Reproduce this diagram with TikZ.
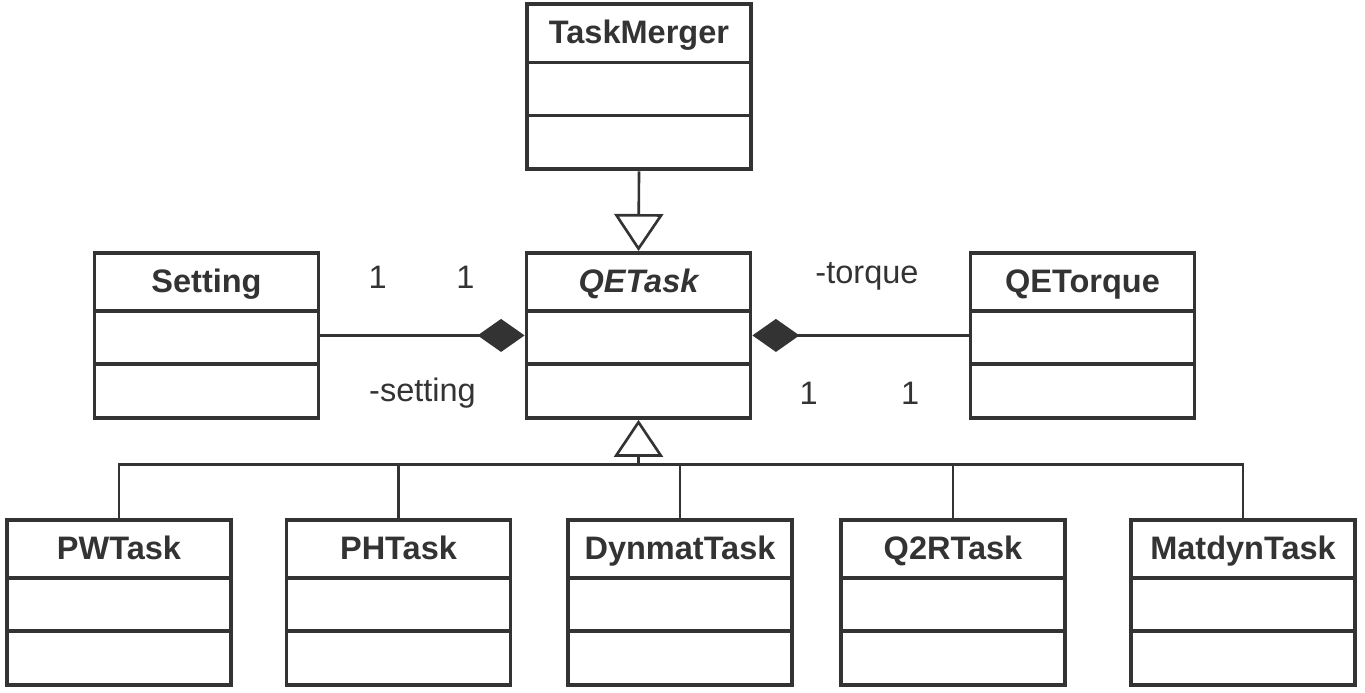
\documentclass[tikz,border=0pt]{standalone}
\usepackage{fontspec}
\setmainfont{Liberation Sans}
\usepackage{tikz}
\usepackage{xcolor}
\usetikzlibrary{arrows.meta}
\definecolor{umlgray}{HTML}{333333}
\tikzset{
  umlclass/.style={rectangle,
      draw=umlgray,
      line width=2.2pt,
      minimum width=4.48cm,
      minimum height=3.3cm,
      inner sep=0pt,
      anchor=north,
      label={[anchor=base, yshift=-0.82cm]north:\bfseries #1}},
  assoc/.style={draw=umlgray, line width=1.5pt},
  composition/.style={assoc, -{Diamond[length=0.94cm, width=0.66cm, fill=umlgray]}},
  generalization/.style={assoc, -{Triangle[open, length=0.74cm, width=0.98cm, fill=white]}},
}

\begin{document}
\begin{tikzpicture}[font=\fontsize{18.5}{22}\selectfont, color=umlgray]
\useasboundingbox[fill=white] (0,0) rectangle (27.3,-13.86);

\node[umlclass=TaskMerger] (merger) at (12.78,-0.05) {};
\node[umlclass={\itshape QETask}] (task) at (12.77,-5.02) {};
\node[umlclass=Setting] (setting) at (4.13,-5.02) {};
\node[umlclass=QETorque] (torque) at (21.65,-5.02) {};
\node[umlclass=PWTask] (pw) at (2.38,-10.36) {};
\node[umlclass=PHTask] (ph) at (7.97,-10.36) {};
\node[umlclass=DynmatTask] (dynmat) at (13.6,-10.36) {};
\node[umlclass=Q2RTask] (q2r) at (19.06,-10.36) {};
\node[umlclass=MatdynTask] (matdyn) at (24.86,-10.36) {};

\foreach \n in {merger,task,setting,torque,pw,ph,dynmat,q2r,matdyn}
  \draw[line width=2.2pt] ([yshift=-1.2cm]\n.north west) -- ([yshift=-1.2cm]\n.north east)
    ([yshift=-2.26cm]\n.north west) -- ([yshift=-2.26cm]\n.north east);

\draw[generalization] (merger.south) -- (task.north);

\draw[composition] (setting.east) -- (task.west)
  node[pos=0.28, yshift=1.17cm] {1}
  node[pos=0.71, yshift=1.17cm] {1}
  node[pos=0.5, yshift=-1.15cm] {-setting};
\draw[composition] (torque.west) -- (task.east)
  node[pos=0.47, yshift=1.19cm] {-torque}
  node[pos=0.74, yshift=-1.15cm] {1}
  node[pos=0.27, yshift=-1.15cm] {1};

\coordinate (bus) at ([yshift=-0.89cm]task.south);
\draw[generalization] (bus) -- (task.south);
\foreach \n in {pw,ph,dynmat,q2r,matdyn}
  \draw[assoc] (\n.north) |- (bus);
\end{tikzpicture}
\end{document}
